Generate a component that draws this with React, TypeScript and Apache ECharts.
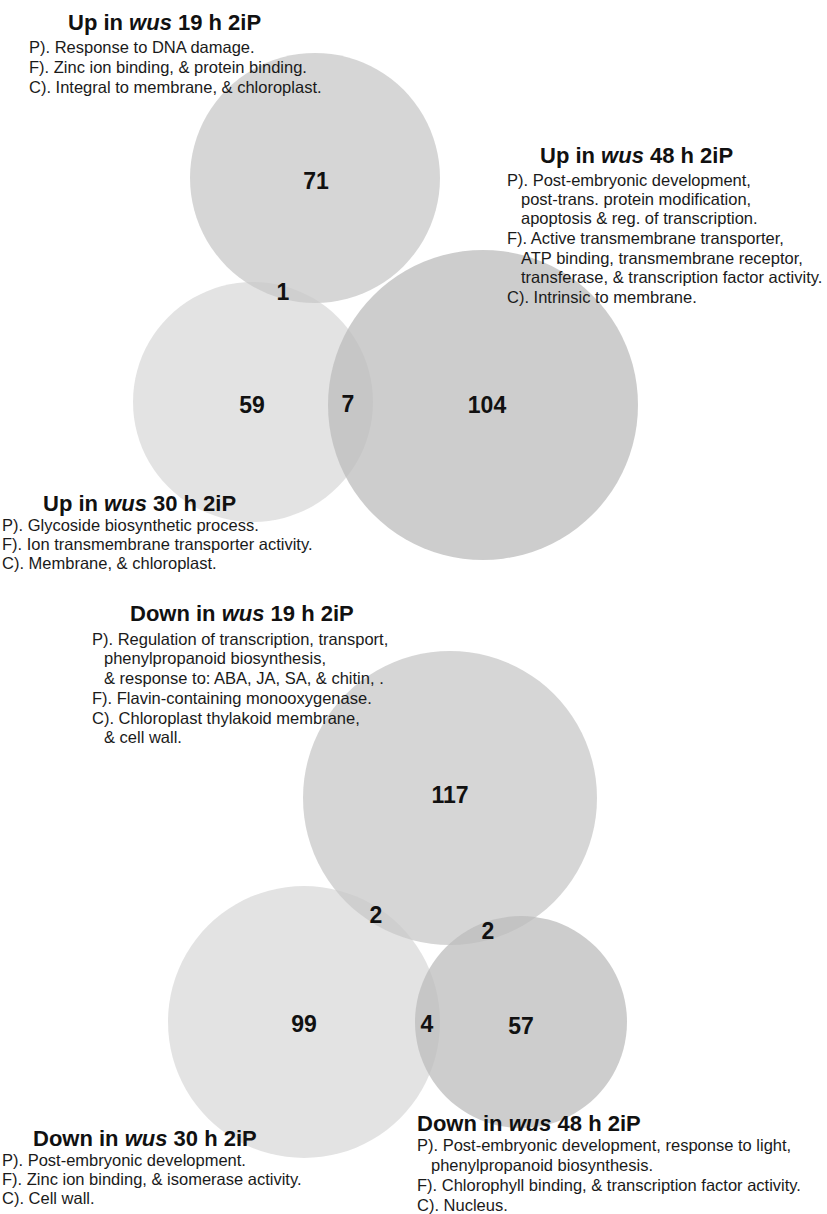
import React, { useEffect, useRef } from "react";
import * as echarts from "echarts";

// ---- Data -------------------------------------------------------------
// Gene counts per Venn region, up-regulated set (19 h, 30 h, 48 h)
const upRegionLabels = ["19h only", "30h only", "48h only", "19h∩30h", "30h∩48h"];
const upCounts = [71, 59, 104, 1, 7];

// Gene counts per Venn region, down-regulated set
const downRegionLabels = ["19h only", "30h only", "48h only", "19h∩30h", "19h∩48h", "30h∩48h"];
const downCounts = [117, 99, 57, 2, 2, 4];

// ---- Layout (chart coordinates, y grows downward) ---------------------
const W = 827;
const H = 1214;

// circles: [cx, cy, r, grey level]; drawn in list order
const upCircles = [
  [253, 402, 120, 218], // 30 h
  [315, 178, 125, 200], // 19 h
  [483, 405, 155, 188], // 48 h
];
const downCircles = [
  [304, 1022, 136, 218], // 30 h
  [450, 798, 147, 200], // 19 h
  [521, 1022, 106, 188], // 48 h
];

const upLabelPos = [
  [316, 181],
  [252, 405],
  [487, 405],
  [283, 292],
  [348, 404],
];
const downLabelPos = [
  [450, 795],
  [304, 1024],
  [521, 1026],
  [376, 915],
  [488, 931],
  [427, 1024],
];

// Set headings: [prefix, italic gene, suffix, x, y]
const headings: [string, string, string, number, number][] = [
  ["Up in ", "wus", " 19 h 2iP", 68, 22],
  ["Up in ", "wus", " 48 h 2iP", 540, 155],
  ["Up in ", "wus", " 30 h 2iP", 43, 503],
  ["Down in ", "wus", " 19 h 2iP", 130, 613],
  ["Down in ", "wus", " 30 h 2iP", 33, 1138],
  ["Down in ", "wus", " 48 h 2iP", 417, 1123],
];

// GO term lines: [text, x, y]
const goLines: [string, number, number][] = [
  ["P). Response to DNA damage.", 29, 47],
  ["F). Zinc ion binding, & protein binding.", 29, 67],
  ["C). Integral to membrane, & chloroplast.", 29, 87],

  ["P). Post-embryonic development,", 507, 180],
  ["post-trans. protein modification,", 521, 199],
  ["apoptosis & reg. of transcription.", 521, 218],
  ["F). Active transmembrane transporter,", 507, 238],
  ["ATP binding, transmembrane receptor,", 521, 258],
  ["transferase, & transcription factor activity.", 521, 277],
  ["C). Intrinsic to membrane.", 507, 297],

  ["P). Glycoside biosynthetic process.", 2, 525],
  ["F). Ion transmembrane transporter activity.", 2, 544],
  ["C). Membrane, & chloroplast.", 2, 563],

  ["P). Regulation of transcription, transport,", 92, 639],
  ["phenylpropanoid biosynthesis,", 104, 658],
  ["& response to: ABA, JA, SA, & chitin, .", 104, 678],
  ["F). Flavin-containing monooxygenase.", 92, 698],
  ["C). Chloroplast thylakoid membrane,", 92, 718],
  ["& cell wall.", 104, 737],

  ["P). Post-embryonic development.", 2, 1160],
  ["F). Zinc ion binding, & isomerase activity.", 2, 1179],
  ["C). Cell wall.", 2, 1198],

  ["P). Post-embryonic development, response to light,", 417, 1145],
  ["phenylpropanoid biosynthesis.", 431, 1165],
  ["F). Chlorophyll binding, & transcription factor activity.", 417, 1185],
  ["C). Nucleus.", 417, 1205],
];

const FAMILY = "Liberation Sans, Arial, Helvetica, sans-serif";
const INK = "#111111";
const HEAD_FONT = `bold 22px ${FAMILY}`;
const HEAD_ITALIC_FONT = `italic bold 22px ${FAMILY}`;

export default function App() {
  const ref = useRef<HTMLDivElement>(null);

  useEffect(() => {
    if (!ref.current) return;
    const chart = echarts.init(ref.current, undefined, { renderer: "svg" });

    const circleData = [...upCircles, ...downCircles];
    const countData = [
      ...upCounts.map((v, i) => [upLabelPos[i][0], upLabelPos[i][1], v, upRegionLabels[i]]),
      ...downCounts.map((v, i) => [downLabelPos[i][0], downLabelPos[i][1], v, downRegionLabels[i]]),
    ];

    const graphics: any[] = [];
    headings.forEach(([pre, gene, post, x, y]) => {
      graphics.push({
        type: "text",
        x,
        y,
        z: 10,
        style: {
          text: `{b|${pre}}{i|${gene}}{b|${post}}`,
          font: HEAD_FONT,
          fill: INK,
          verticalAlign: "middle",
          align: "left",
          rich: {
            b: {
              font: HEAD_FONT,
              fontFamily: FAMILY,
              fontWeight: "bold",
              fontSize: 22,
              fill: INK,
            },
            i: {
              font: HEAD_ITALIC_FONT,
              fontFamily: FAMILY,
              fontWeight: "bold",
              fontStyle: "italic",
              fontSize: 22,
              fill: INK,
            },
          },
        },
      });
    });
    goLines.forEach(([text, x, y]) => {
      graphics.push({
        type: "text",
        x,
        y,
        z: 10,
        style: {
          text,
          fill: "#1a1a1a",
          font: `16.5px ${FAMILY}`,
          verticalAlign: "middle",
          align: "left",
        },
      });
    });

    chart.setOption({
      animation: false,
      backgroundColor: "#ffffff",
      grid: { left: 0, right: 0, top: 0, bottom: 0 },
      xAxis: { type: "value", min: 0, max: W, show: false },
      yAxis: { type: "value", min: 0, max: H, inverse: true, show: false },
      series: [
        {
          type: "custom",
          coordinateSystem: "cartesian2d",
          data: circleData,
          renderItem: (_params: any, api: any) => {
            const c = api.coord([api.value(0), api.value(1)]);
            const s = api.size([api.value(2), api.value(2)]);
            const g = api.value(3);
            return {
              type: "circle",
              shape: { cx: c[0], cy: c[1], r: s[0] },
              style: { fill: `rgb(${g},${g},${g})`, opacity: 0.75 },
            };
          },
          z: 1,
        },
        {
          type: "custom",
          coordinateSystem: "cartesian2d",
          data: countData,
          renderItem: (_params: any, api: any) => {
            const c = api.coord([api.value(0), api.value(1)]);
            return {
              type: "text",
              x: c[0],
              y: c[1],
              style: {
                text: String(api.value(2)),
                font: `bold 23px ${FAMILY}`,
                fill: INK,
                align: "center",
                verticalAlign: "middle",
              },
            };
          },
          z: 5,
        },
      ],
      graphic: graphics,
    });

    return () => chart.dispose();
  }, []);

  return (
    <div
      ref={ref}
      style={{ position: "absolute", left: 0, top: 0, width: W, height: H }}
    />
  );
}
